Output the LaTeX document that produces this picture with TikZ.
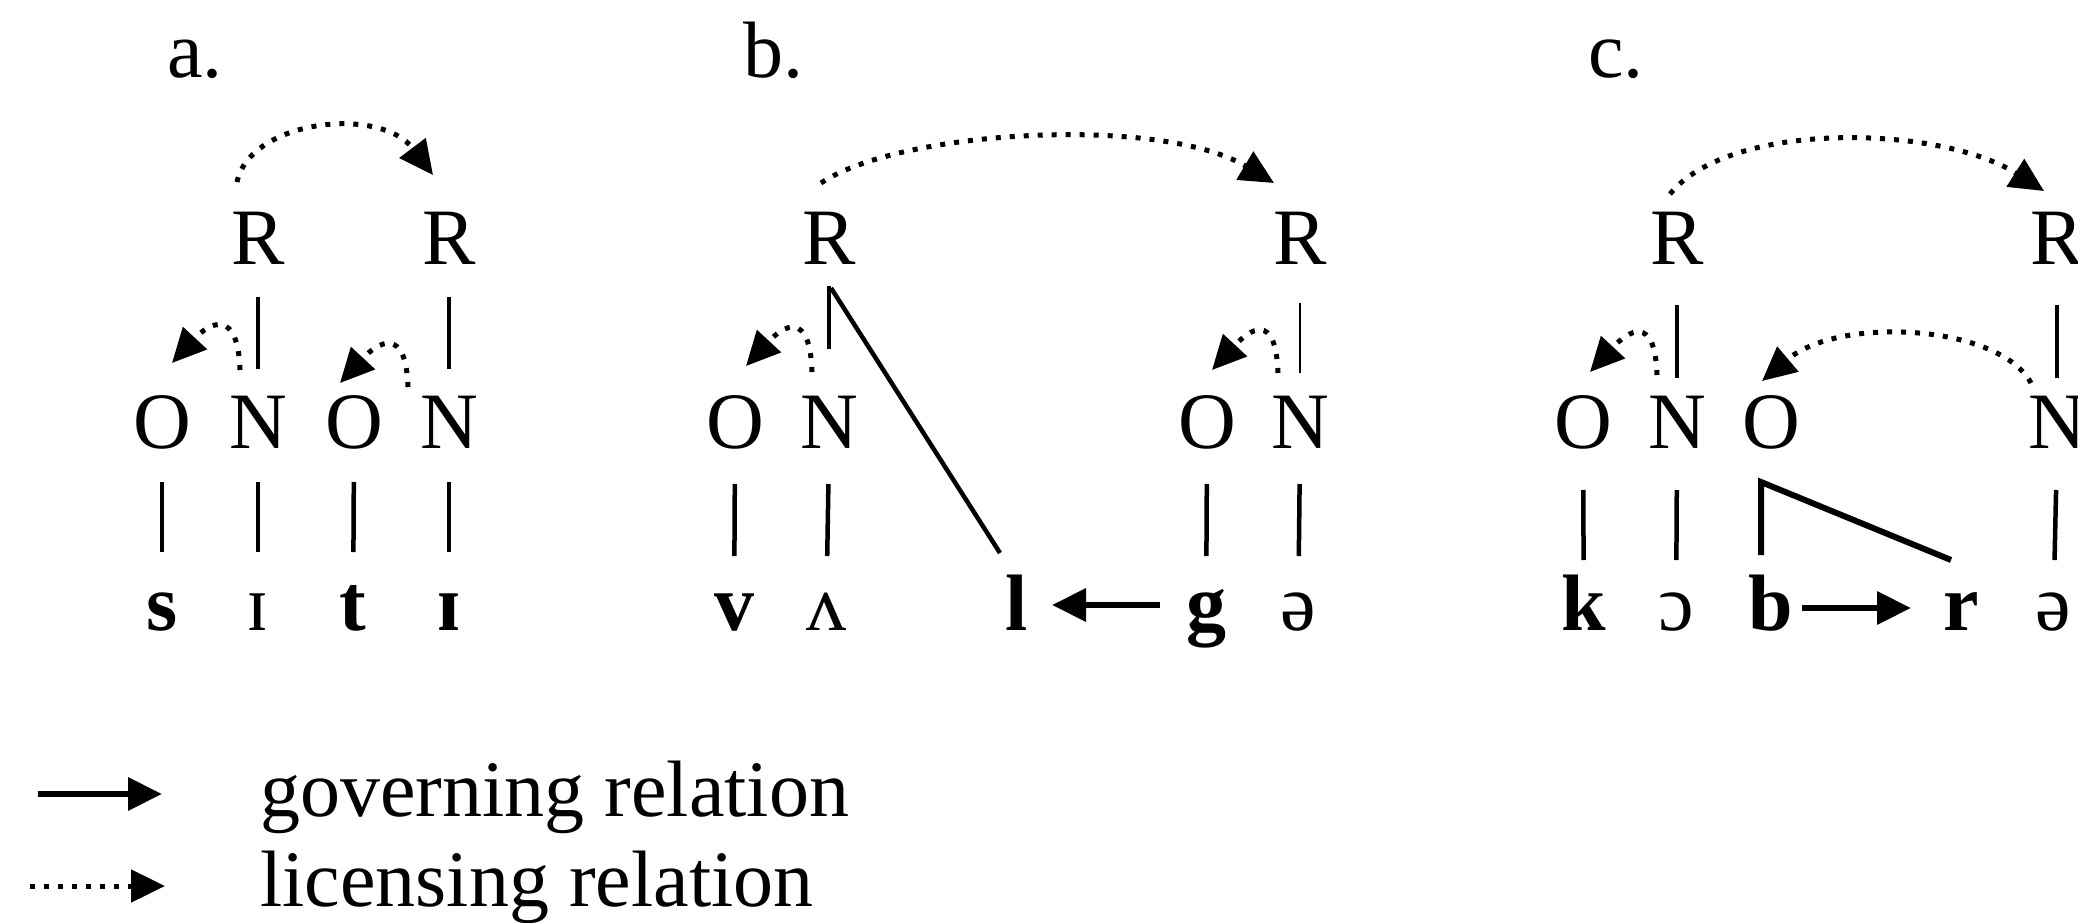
\documentclass[tikz,border=0pt]{standalone}
\usepackage{fontspec}
\setmainfont{Liberation Serif}
\usetikzlibrary{arrows.meta,calc}
\begin{document}
\begin{tikzpicture}[x=1pt,y=-1pt,
  txt/.style={anchor=base,inner sep=0pt,font=\fontsize{80}{96}\selectfont},
  cons/.style={txt,font=\fontsize{80}{96}\selectfont\bfseries},
  panel/.style={anchor=base west,inner sep=0pt,font=\fontsize{80}{96}\selectfont},
  assoc/.style={line width=4.5pt},
  lic/.style={line width=5pt,dash pattern=on 5pt off 9pt,-{Triangle[length=34pt,width=32pt]}},
  gov/.style={line width=6.5pt,-{Triangle[length=34pt,width=32pt]}}]
\useasboundingbox (0,0) rectangle (2078,923);
\clip (0,0) rectangle (2078,923);
% ---------- panel a ----------
\node[panel] (la) at (167,78) {a.};
\node[txt] (aR1) at (258,264) {R};
\node[txt] (aR2) at (449,264) {R};
\node[txt] (aO1) at (162,448) {O};
\node[txt] (aN1) at (258,448) {N};
\node[txt] (aO2) at (354,448) {O};
\node[txt] (aN2) at (449,448) {N};
\node[cons] (as) at (162,630) {s};
\node[txt] (ai1) at (258,630) {ɪ};
\node[cons] (at) at (353,630) {t};
\node[cons] (ai2) at (449,630) {ɪ};
\foreach \u/\l in {aR1/aN1,aR2/aN2}
  \draw[assoc,shorten <=33pt,shorten >=79pt] (\u.base) -- (\l.base);
\foreach \u/\l in {aO1/as,aN1/ai1,aO2/at,aN2/ai2}
  \draw[assoc,shorten <=34pt,shorten >=78pt] (\u.base) -- (\l.base);
\draw[lic] ($(aR1.base)+(-21,-82)$) .. controls +(13,-62) and +(-53,-70) .. ($(aR2.base)+(-16,-89)$);
\draw[lic] ($(aN1.base)+(-18,-78)$) .. controls +(-2,-62) and +(38,-41) .. ($(aO1.base)+(10,-85)$);
\draw[lic] ($(aN2.base)+(-41,-61)$) .. controls +(-2,-62) and +(38,-41) .. ($(aO2.base)+(-14,-65)$);
% ---------- panel b ----------
\node[panel] (lb) at (743,78) {b.};
\node[txt] (bR1) at (829,264) {R};
\node[txt] (bR2) at (1300,264) {R};
\node[txt] (bO1) at (735,448) {O};
\node[txt] (bN1) at (829,448) {N};
\node[txt] (bO2) at (1207,448) {O};
\node[txt] (bN2) at (1300,448) {N};
\node[cons] (bv) at (734,630) {v};
\node[txt] (bA) at (826,630) {ʌ};
\node[cons] (bl) at (1017,630) {l};
\node[cons] (bg) at (1206,630) {g};
\node[txt] (bE) at (1298,630) {ə};
\draw[assoc,shorten <=22pt,shorten >=99pt] (bR1.base) -- (bN1.base);
\draw[line width=2pt,shorten <=39pt,shorten >=75pt] (bR2.base) -- (bN2.base);
\draw[assoc] ($(bR1.base)+(2,24)$) -- ($(bl.base)+(-17,-77)$);
\foreach \u/\l in {bO1/bv,bN1/bA,bO2/bg,bN2/bE}
  \draw[assoc,shorten <=36pt,shorten >=74pt] (\u.base) -- (\l.base);
\draw[gov,shorten <=46pt,shorten >=35pt] ([yshift=25pt]bg.base) -- ([yshift=25pt]bl.base);
\draw[lic] ($(bR1.base)+(-8,-81)$) .. controls +(79,-53) and +(-114,-68) .. ($(bR2.base)+(-26,-81)$);
\draw[lic] ($(bN1.base)+(-17,-76)$) .. controls +(-2,-62) and +(38,-41) .. ($(bO1.base)+(11,-82)$);
\draw[lic] ($(bN2.base)+(-22,-75)$) .. controls +(-2,-62) and +(38,-41) .. ($(bO2.base)+(5,-78)$);
% ---------- panel c ----------
\node[panel] (lc) at (1588,78) {c.};
\node[txt] (cR1) at (1677,264) {R};
\node[txt] (cR2) at (2057,264) {R};
\node[txt] (cO1) at (1583,448) {O};
\node[txt] (cN1) at (1677,448) {N};
\node[txt] (cO2) at (1771,448) {O};
\node[txt] (cN2) at (2057,448) {N};
\node[cons] (ck) at (1584,630) {k};
\node[txt] (cC) at (1676,630) {ɔ};
\node[cons] (cb) at (1771,630) {b};
\node[cons] (cr) at (1961,630) {r};
\node[txt] (cE) at (2053,630) {ə};
\foreach \u/\l in {cR1/cN1,cR2/cN2}
  \draw[assoc,shorten <=41pt,shorten >=70pt] (\u.base) -- (\l.base);
\foreach \u/\l in {cO1/ck,cN1/cC,cN2/cE}
  \draw[assoc,shorten <=42pt,shorten >=70pt] (\u.base) -- (\l.base);
\draw[line width=6pt,line join=miter] ($(cb.base)+(-10,-75)$) -- ($(cO2.base)+(-10,34)$) -- ($(cr.base)+(-10,-70)$);
\draw[gov,shorten <=31pt,shorten >=50pt] ([yshift=22pt]cb.base) -- ([yshift=22pt]cr.base);
\draw[lic] ($(cR1.base)+(-7,-70)$) .. controls +(60,-74) and +(-104,-66) .. ($(cR2.base)+(-13,-73)$);
\draw[lic] ($(cN1.base)+(-20,-73)$) .. controls +(-2,-62) and +(38,-41) .. ($(cO1.base)+(7,-76)$);
\draw[lic] ($(cN2.base)+(-26,-65)$) .. controls +(-31,-58) and +(78,-66) .. ($(cO2.base)+(-9,-67)$);
% ---------- legend ----------
\coordinate (gs) at (38,794);
\coordinate (ge) at (162,794);
\coordinate (ls) at (30,886);
\coordinate (le) at (165,886);
\draw[gov] (gs) -- (ge);
\draw[lic] (ls) -- (le);
\node[panel] (tgov) at (260,816) {governing relation};
\node[panel] (tlic) at (260,906) {licensing relation};
\end{tikzpicture}
\end{document}
